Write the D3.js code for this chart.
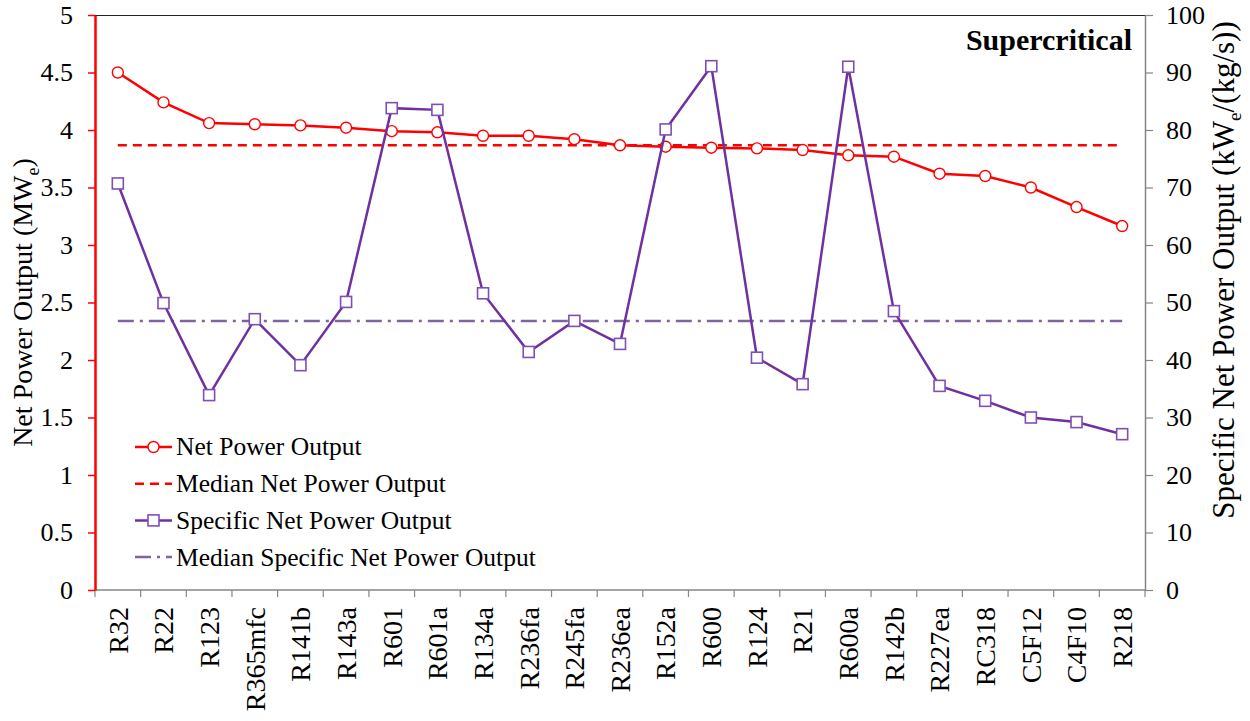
<!DOCTYPE html>
<html>
<head>
<meta charset="utf-8">
<script src="https://cdn.jsdelivr.net/npm/d3@7"></script>
<style>
	body { margin: 0; background: #fff; }
	text { font-family: 'Liberation Serif', 'Times New Roman', serif; fill: #000; }
</style>
</head>
<body>
<svg id="chart" width="1250" height="721"></svg>
<script>
const refrigerants = ['R32', 'R22', 'R123', 'R365mfc', 'R141b', 'R143a', 'R601', 'R601a', 'R134a', 'R236fa',
	'R245fa', 'R236ea', 'R152a', 'R600', 'R124', 'R21', 'R600a', 'R142b', 'R227ea', 'RC318', 'C5F12', 'C4F10', 'R218']

// MWe
const netPower = [4.50, 4.24, 4.06, 4.05, 4.04, 4.02, 3.99, 3.98, 3.95, 3.95,
	3.92, 3.867, 3.855, 3.846, 3.84, 3.826, 3.78, 3.768, 3.62, 3.60, 3.50, 3.33, 3.165]

// kWe/(kg/s)
const specificPower = [70.7, 49.9, 33.9, 47.1, 39.1, 50.1, 83.8, 83.5, 51.6, 41.4,
	46.8, 42.8, 80.1, 91.1, 40.4, 35.8, 91.0, 48.5, 35.5, 32.9, 30.0, 29.2, 27.1]

const leftTicks = [0, 0.5, 1, 1.5, 2, 2.5, 3, 3.5, 4, 4.5, 5]
const rightTicks = [0, 10, 20, 30, 40, 50, 60, 70, 80, 90, 100]

const RED = '#ff0000'
const PURPLE = '#7030a0'
const PURPLE_LIGHT = '#8064a2'
const GREY = '#868686'
const SERIF = "'Liberation Serif', 'Times New Roman', serif"

const plotLeft = 95, plotRight = 1145, plotTop = 15, plotBottom = 590

const svg = d3.select('#chart')

const x = d3.scaleBand()
	.domain(refrigerants)
	.range([plotLeft, plotRight])

const cx = d => x(d) + x.bandwidth()/2

const yLeft = d3.scaleLinear().domain([0, 5]).range([plotBottom, plotTop])
const yRight = d3.scaleLinear().domain([0, 100]).range([plotBottom, plotTop])

// top border
svg.append('line')
	.attr('x1', plotLeft).attr('x2', plotRight)
	.attr('y1', plotTop + 0.5).attr('y2', plotTop + 0.5)
	.attr('stroke', '#222').attr('stroke-width', 1)

// bottom axis with ticks at band edges
const xAxis = svg.append('g').attr('transform', `translate(0, ${plotBottom})`)
xAxis.append('line')
	.attr('x1', plotLeft).attr('x2', plotRight)
	.attr('stroke', GREY).attr('stroke-width', 1.5)
xAxis.selectAll('.xtick')
	.data(refrigerants.concat(['end']))
	.enter()
	.append('line')
	.attr('x1', (d, i) => plotLeft + i*x.bandwidth())
	.attr('x2', (d, i) => plotLeft + i*x.bandwidth())
	.attr('y1', 0).attr('y2', 7)
	.attr('stroke', GREY).attr('stroke-width', 1.2)
xAxis.selectAll('.xlabel')
	.data(refrigerants)
	.enter()
	.append('text')
	.attr('transform', d => `translate(${cx(d)}, 17) rotate(-90)`)
	.attr('dy', '0.35em')
	.attr('text-anchor', 'end')
	.style('font-family', SERIF)
	.style('font-size', '28px')
	.text(d => d)

// left axis (red)
const leftAxis = svg.append('g')
	.attr('transform', `translate(${plotLeft}, 0)`)
	.call(d3.axisLeft(yLeft).tickValues(leftTicks).tickFormat(d => String(d))
		.tickSize(7).tickPadding(15).tickSizeOuter(0))
leftAxis.attr('font-family', null)
leftAxis.select('.domain').attr('stroke', RED).attr('stroke-width', 2.5)
leftAxis.selectAll('.tick line').attr('stroke', RED).attr('stroke-width', 1.5)
leftAxis.selectAll('.tick text')
	.style('font-family', SERIF)
	.style('font-size', '26px')
	.attr('fill', '#000')

// right axis (grey)
const rightAxis = svg.append('g')
	.attr('transform', `translate(${plotRight}, 0)`)
	.call(d3.axisRight(yRight).tickValues(rightTicks).tickFormat(d => String(d))
		.tickSize(8).tickPadding(13).tickSizeOuter(0))
rightAxis.attr('font-family', null)
rightAxis.select('.domain').attr('stroke', GREY).attr('stroke-width', 1.5)
rightAxis.selectAll('.tick line').attr('stroke', GREY).attr('stroke-width', 1.2)
rightAxis.selectAll('.tick text')
	.style('font-family', SERIF)
	.style('font-size', '26px')
	.attr('fill', '#000')

// axis titles
const leftTitle = svg.append('text')
	.attr('transform', `translate(32, ${(plotTop + plotBottom)/2}) rotate(-90)`)
	.attr('text-anchor', 'middle')
	.style('font-family', SERIF)
	.style('font-size', '28px')
leftTitle.append('tspan').text('Net Power Output (MW')
leftTitle.append('tspan').attr('dy', 7).style('font-size', '18px').text('e')
leftTitle.append('tspan').attr('dy', -7).text(')')

const rightTitle = svg.append('text')
	.attr('transform', `translate(1234, 270) rotate(-90)`)
	.attr('text-anchor', 'middle')
	.style('font-family', SERIF)
	.style('font-size', '31px')
rightTitle.append('tspan').text('Specific Net Power Output (kW')
rightTitle.append('tspan').attr('dy', 7).style('font-size', '19px').text('e')
rightTitle.append('tspan').attr('dy', -7).text('/(kg/s))')

// median lines
const medNet = d3.median(netPower)
const medSpec = d3.median(specificPower)
const first = cx(refrigerants[0]), last = cx(refrigerants[refrigerants.length - 1])

svg.append('line')
	.attr('x1', first).attr('x2', last)
	.attr('y1', yLeft(medNet)).attr('y2', yLeft(medNet))
	.attr('stroke', RED).attr('stroke-width', 2.5)
	.attr('stroke-dasharray', '9,6')

svg.append('line')
	.attr('x1', first).attr('x2', last)
	.attr('y1', yRight(medSpec)).attr('y2', yRight(medSpec))
	.attr('stroke', PURPLE_LIGHT).attr('stroke-width', 2.5)
	.attr('stroke-dasharray', '16,6,3,6')

// net power series
const netLine = d3.line()
	.x((d, i) => cx(refrigerants[i]))
	.y(d => yLeft(d))

svg.append('path')
	.datum(netPower)
	.attr('d', netLine)
	.attr('fill', 'none')
	.attr('stroke', RED)
	.attr('stroke-width', 2.5)

svg.selectAll('.net-pt')
	.data(netPower)
	.enter()
	.append('circle')
	.attr('cx', (d, i) => cx(refrigerants[i]))
	.attr('cy', d => yLeft(d))
	.attr('r', 5.5)
	.attr('fill', '#fff')
	.attr('stroke', RED)
	.attr('stroke-width', 1.4)

// specific power series
const specLine = d3.line()
	.x((d, i) => cx(refrigerants[i]))
	.y(d => yRight(d))

svg.append('path')
	.datum(specificPower)
	.attr('d', specLine)
	.attr('fill', 'none')
	.attr('stroke', PURPLE)
	.attr('stroke-width', 2.5)

svg.selectAll('.spec-pt')
	.data(specificPower)
	.enter()
	.append('rect')
	.attr('x', (d, i) => cx(refrigerants[i]) - 5.5)
	.attr('y', d => yRight(d) - 5.5)
	.attr('width', 11)
	.attr('height', 11)
	.attr('fill', '#fff')
	.attr('stroke', '#7f4fb8')
	.attr('stroke-width', 1.6)

// "Supercritical" label
svg.append('text')
	.attr('x', 1132)
	.attr('y', 50)
	.attr('text-anchor', 'end')
	.style('font-family', SERIF)
	.style('font-size', '30px')
	.style('font-weight', 'bold')
	.text('Supercritical')

// legend
const legendItems = [
	{ label: 'Net Power Output', color: RED, dash: null, marker: 'circle' },
	{ label: 'Median Net Power Output', color: RED, dash: '9,6', marker: null },
	{ label: 'Specific Net Power Output', color: PURPLE, dash: null, marker: 'square' },
	{ label: 'Median Specific Net Power Output', color: PURPLE_LIGHT, dash: '16,6,3,6', marker: null }
]

const legend = svg.append('g').attr('transform', 'translate(135, 447)')
const rows = legend.selectAll('g')
	.data(legendItems)
	.enter()
	.append('g')
	.attr('transform', (d, i) => `translate(0, ${i*36.7})`)

rows.append('line')
	.attr('x1', 0).attr('x2', 37)
	.attr('stroke', d => d.color)
	.attr('stroke-width', 2.5)
	.attr('stroke-dasharray', d => d.dash)

rows.filter(d => d.marker === 'circle')
	.append('circle')
	.attr('cx', 18.5).attr('r', 5.5)
	.attr('fill', '#fff').attr('stroke', RED).attr('stroke-width', 1.4)

rows.filter(d => d.marker === 'square')
	.append('rect')
	.attr('x', 13).attr('y', -5.5).attr('width', 11).attr('height', 11)
	.attr('fill', '#fff').attr('stroke', '#7f4fb8').attr('stroke-width', 1.6)

rows.append('text')
	.attr('x', 41)
	.attr('dy', '0.33em')
	.style('font-family', SERIF)
	.style('font-size', '25.5px')
	.text(d => d.label)
</script>
</body>
</html>
